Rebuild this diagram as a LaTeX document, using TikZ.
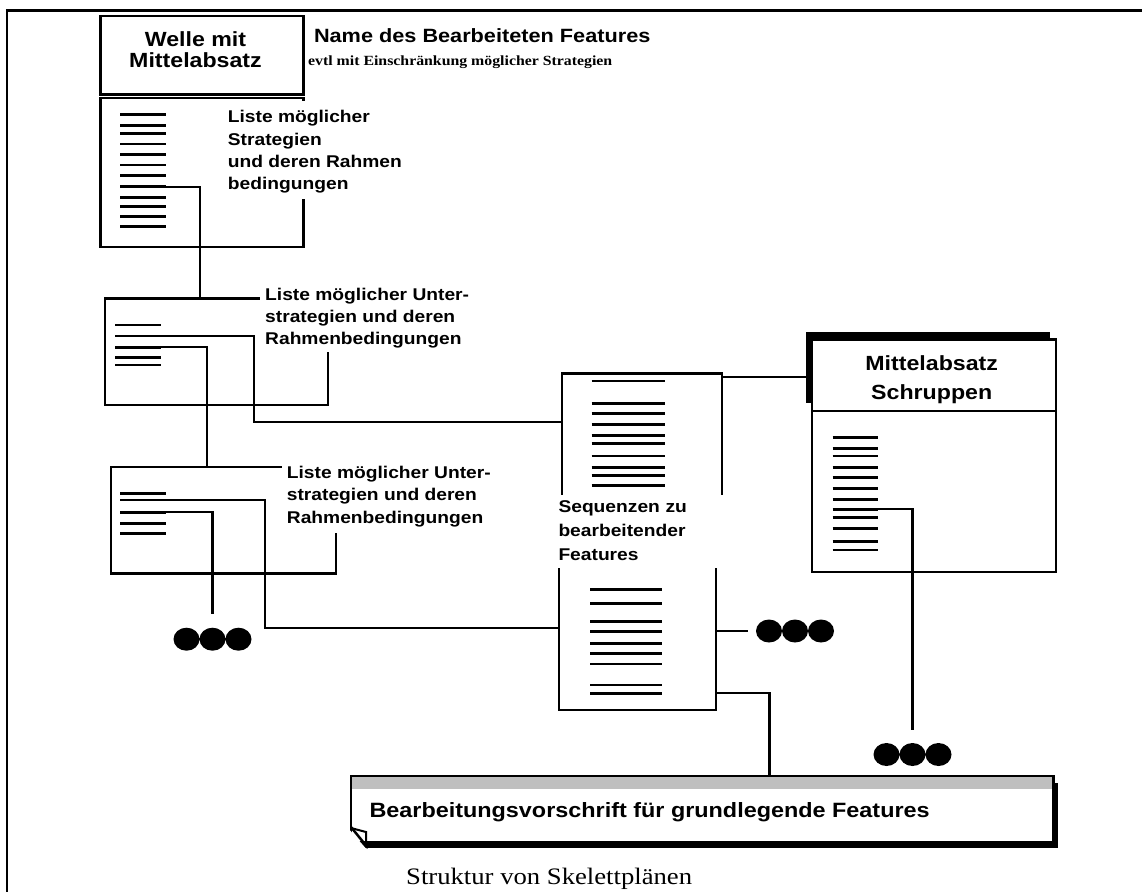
\documentclass[tikz,border=0pt]{standalone}
\usepackage{fontspec}
\setmainfont[FakeStretch=1.13]{Liberation Serif}
\setsansfont[FakeStretch=1.13]{Liberation Sans}
\usetikzlibrary{calc,shadows}

% invisible rules that fix the height of a first line and the depth of a last line
\newcommand\lbltop[1]{\rule{0pt}{#1pt}}
\newcommand\lblbot[1]{\rule[-#1pt]{0pt}{0pt}}

\begin{document}
\begin{tikzpicture}[x=1pt,y=-1pt,
  box/.style={draw, line width=2.4pt, fill=white, anchor=north west, inner sep=0pt, outer sep=0pt},
  listline/.style={line width=2.6pt},
  conn/.style={line width=2.3pt},
  lbl/.style={anchor=north west, fill=white, align=left, inner xsep=5pt, inner ysep=4pt,
    font=\sffamily\bfseries\fontsize{17}{22.3}\selectfont},
  ttl/.style={anchor=north, align=center, inner sep=0pt, font=\sffamily\bfseries\fontsize{20.5}{21}\selectfont},
  dots/.style={minimum width=78pt, minimum height=23pt, inner sep=0pt, path picture={
     \fill[shift={(path picture bounding box.center)}]
       (-26,0) ellipse [x radius=13, y radius=11.5]
       (0,0) ellipse [x radius=13, y radius=11.5]
       (26,0) ellipse [x radius=13, y radius=11.5];}},
]
\useasboundingbox (0,0) rectangle (1142,892);

% page frame
\draw[line width=3pt] (5.8,10.5) -- (1142,10.5);
\draw[line width=2.2pt] (7.2,9) -- (7.2,892);

% feature box: title and strategy list
\node[box, minimum width=203.2pt, minimum height=78.6pt] (t1) at (100.3,15.7) {};
\node[box, minimum width=203.2pt, minimum height=149pt] (b1) at (100.3,97.7) {};
% sub-strategy boxes
\node[box, minimum width=222.7pt, minimum height=106.7pt] (b2) at (105,298.3) {};
\node[box, minimum width=225pt, minimum height=106.6pt] (b3) at (111,466.7) {};
% sequence boxes
\node[box, minimum width=160pt, minimum height=150pt] (s1) at (561.7,373.3) {};
\node[box, minimum width=157pt, minimum height=170pt] (s2) at (559,540) {};
% Mittelabsatz Schruppen
\node[box, minimum width=244pt, minimum height=71.7pt,
  drop shadow={shadow xshift=-6pt, shadow yshift=7.6pt, opacity=1, fill=black}] (m4t) at (811.7,339.3) {};
\node[box, minimum width=244pt, minimum height=160.7pt] (m4) at (811.7,411) {};
% processing rule
\node[box, minimum width=702.3pt, minimum height=65.7pt,
  drop shadow={shadow xshift=5pt, shadow yshift=-6.6pt, opacity=1, fill=black}] (bb) at (351,776) {};
\fill[black!25] ([xshift=1.2pt,yshift=-1.2pt]bb.north west) rectangle ([xshift=-1.2pt,yshift=-12.5pt]bb.north east);

% list entries
\foreach \y in {114.3,125.7,133.7,144,154.3,165,175.7,186.7,197.3,206.7,216.7,226.7}
  \draw[listline] (120.3,\y) -- (165.8,\y);
\foreach \y in {325,336,347.3,357.3,365}
  \draw[listline] (115,\y) -- (161,\y);
\foreach \y in {493.3,500,512.3,523.3,533.3}
  \draw[listline] (120,\y) -- (166,\y);
\foreach \y in {381,403.3,413.3,424.3,435.3,443.3,456,467.3,475.7,485.7}
  \draw[listline] (591.7,\y) -- (665,\y);
\foreach \y in {589.3,603.3,621.7,631.7,643.3,653.3,664,685,693.3}
  \draw[listline] (590,\y) -- (661.7,\y);
\foreach \y in {437.3,448.3,456,467.3,477.3,488.3,499.3,509.3,517.3,528.3,541.7,550}
  \draw[listline] (832.7,\y) -- (877.7,\y);

% continuation marks
\node[dots] (d1) at (212.5,639.2) {};
\node[dots] (d2) at (795,631) {};
\node[dots] (d3) at (912.5,754.5) {};

% connectors
\coordinate (b1o) at (165.8,186.7);
\draw[conn] (b1o) -| ([xshift=95.2pt]b2.north west);
\coordinate (b2oa) at (161,336);
\coordinate (ja) at (254.3,421.7);
\draw[conn] (b2oa) -| (ja) -- (ja -| s1.west);
\coordinate (b2ob) at (161,347.3);
\draw[conn] (b2ob) -| ([xshift=95.7pt]b3.north west);
\coordinate (b3oa) at (166,500);
\coordinate (jc) at (265,628.3);
\draw[conn] (b3oa) -| (jc) -- (jc -| s2.west);
\coordinate (b3ob) at (166,512.3);
\draw[conn] (b3ob) -| ([yshift=14pt]d1.north);
\coordinate (jm) at ([xshift=-6pt,yshift=-1.5pt]m4t.west);
\draw[conn] (jm -| s1.east) -- (jm);
\coordinate (m4o) at (877.7,509.3);
\draw[conn] (m4o) -| ([yshift=13pt]d3.north);
\draw[conn] (s2.east |- d2.west) -- ([xshift=-8pt]d2.west);
\coordinate (jb) at (769.5,693.3);
\draw[conn] (jb -| s2.east) -- (jb) -- (jb |- bb.north);

% folded corner of the processing rule
\fill[white] (348,828) -- (348,852) -- (369,852) -- cycle;
\draw[line width=2pt, fill=white] (351,828) -- (366,832) -- (366,842);
\draw[line width=2.5pt] (351,827) -- (368,848);

% labels
\node[lbl] (l1) at (222.7,100.5) {\lbltop{18.2}Liste möglicher\\Strategien\\und deren Rahmen\\bedingungen\lblbot{4.7}};
\node[lbl] (l2) at (260,282) {\lbltop{14}Liste möglicher Unter-\\strategien und deren\\Rahmenbedingungen\lblbot{3.6}};
\node[lbl] (l3) at (281.7,460.4) {\lbltop{14}Liste möglicher Unter-\\strategien und deren\\Rahmenbedingungen\lblbot{6}};
\node[lbl, text width=162pt, font=\sffamily\bfseries\fontsize{17}{24}\selectfont] (sq) at (553.3,495)
  {\lbltop{13.7}Sequenzen zu\\bearbeitender\\Features\lblbot{3.5}};

% titles and captions
\node[ttl] (t1txt) at (195.5,30) {\lbltop{16.7}Welle mit\\Mittelabsatz};
\node[ttl, font=\sffamily\bfseries\fontsize{20.5}{29}\selectfont] (m4txt) at (931.7,353) {\lbltop{17}Mittelabsatz\\Schruppen};
\node[anchor=base west, inner sep=0pt, font=\sffamily\bfseries\fontsize{19.2}{22}\selectfont] (name) at (313.8,42.7) {Name des Bearbeiteten Features};
\node[anchor=base west, inner sep=0pt, font=\rmfamily\bfseries\fontsize{14}{16}\selectfont] (evtl) at (308,65.7) {evtl mit Einschränkung möglicher Strategien};
\node[anchor=base west, inner sep=0pt, font=\sffamily\bfseries\fontsize{20.7}{24}\selectfont] (bbtxt) at (369.3,817.3) {Bearbeitungsvorschrift für grundlegende Features};
\node[anchor=base west, inner sep=0pt, font=\rmfamily\fontsize{23.6}{26}\selectfont] (cap) at (406,884) {Struktur von Skelettplänen};
\end{tikzpicture}
\end{document}
